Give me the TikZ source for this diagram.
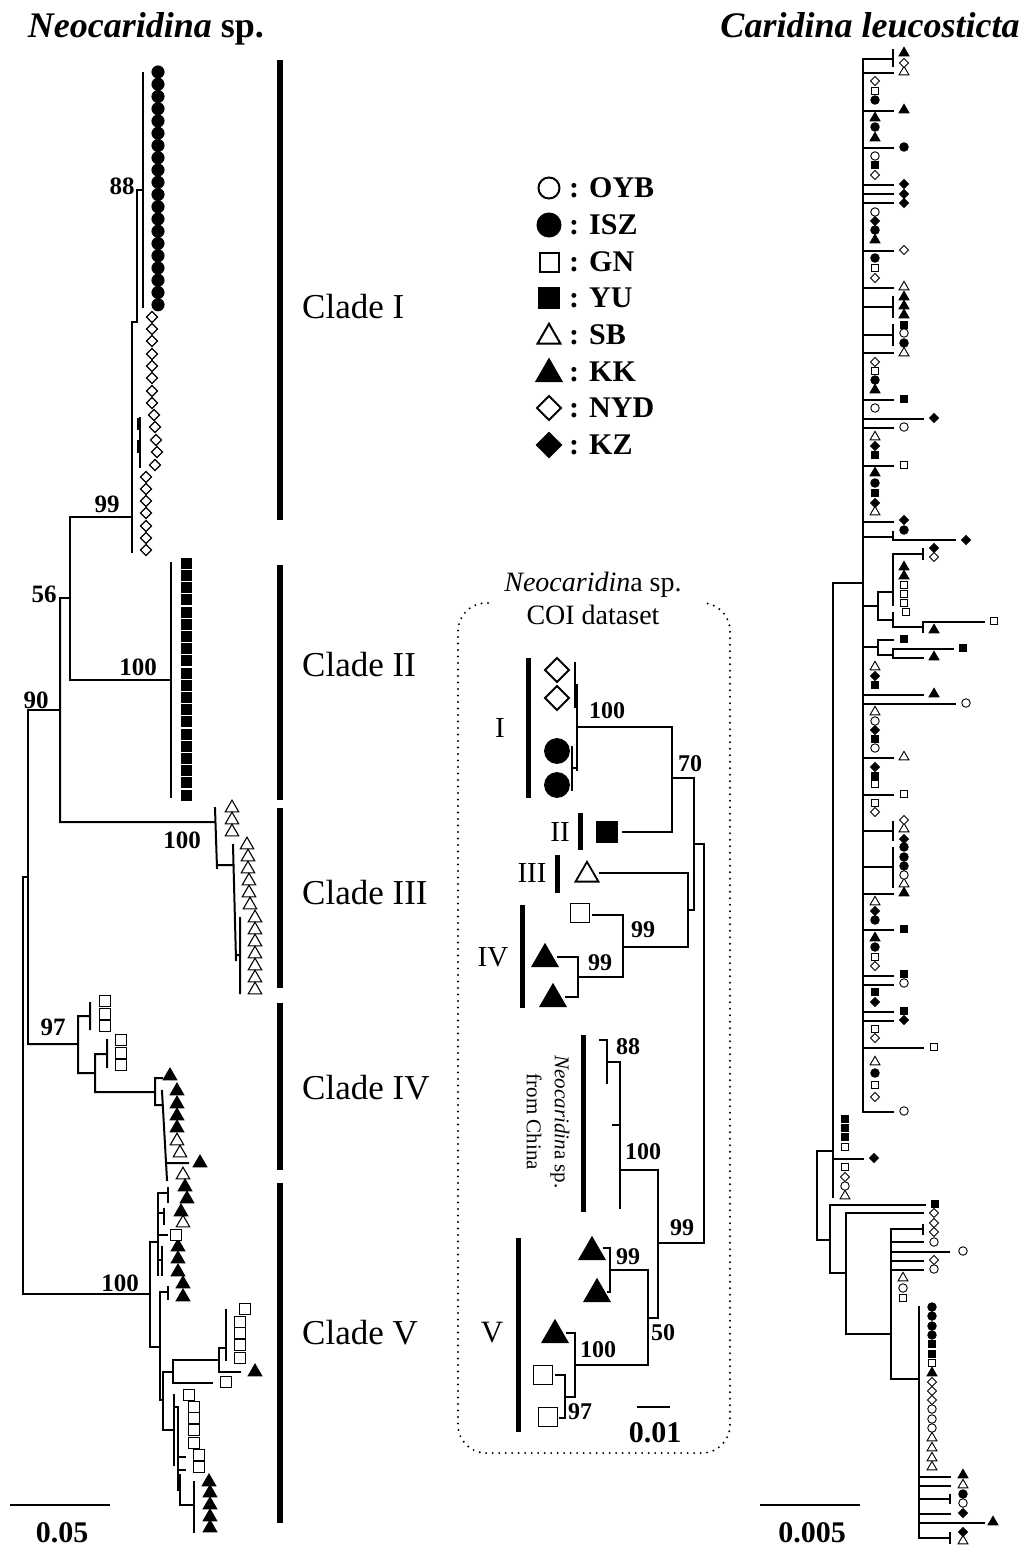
\documentclass[tikz,border=0pt]{standalone}
\usepackage{fontspec}
\setmainfont{Liberation Serif}
\usetikzlibrary{shapes.geometric}

\tikzset{
  sym/.style={draw=black, line width=1.1pt, inner sep=0pt, outer sep=0pt},
  oc/.style={sym, circle, fill=white, minimum size=#1},
  fc/.style={sym, circle, fill=black, minimum size=#1},
  os/.style={sym, rectangle, fill=white, minimum size=#1},
  fs/.style={sym, rectangle, fill=black, minimum size=#1},
  ot/.style={sym, regular polygon, regular polygon sides=3, fill=white, minimum size=1.2*#1},
  ft/.style={sym, regular polygon, regular polygon sides=3, fill=black, minimum size=1.2*#1},
  od/.style={sym, diamond, fill=white, minimum size=#1},
  fd/.style={sym, diamond, fill=black, minimum size=#1},
  br/.style={line width=2pt, line cap=rect},
  rb/.style={line width=1.5pt, line cap=rect},
  ib/.style={line width=2.2pt, line cap=rect},
  bar/.style={line width=6pt},
  ibar/.style={line width=5pt},
  bs/.style={font=\fontsize{25}{25}\selectfont\bfseries, inner sep=0pt},
  ibs/.style={font=\fontsize{24}{24}\selectfont\bfseries, inner sep=0pt},
  clade/.style={font=\fontsize{35}{40}\selectfont, anchor=west, inner sep=0pt},
  roman/.style={font=\fontsize{29}{29}\selectfont, inner sep=0pt},
  lgd/.style={font=\fontsize{30}{30}\selectfont\bfseries, anchor=west, inner sep=0pt},
  ttl/.style={font=\fontsize{36}{40}\selectfont\bfseries, inner sep=0pt},
  sc/.style={font=\fontsize{30}{30}\selectfont\bfseries, inner sep=0pt},
  dotbox/.style={line width=2.2pt, line cap=round, dash pattern=on 0pt off 6.5pt}
}

\begin{document}
\begin{tikzpicture}[x=1pt, y=-1pt]
\useasboundingbox (0,0) rectangle (1027,1548);

% titles
\node[ttl, anchor=base] (ttlL) at (146,37) {\textit{Neocaridina} sp.};
\node[ttl, anchor=base] (ttlR) at (870,37) {\textit{Caridina leucosticta}};

% ---------------- left tree ----------------
% clade I
\draw[br] (143,73) -- (143,307)
  (137,190) -- (143,190) (137,190) -- (137,322)
  (132,322) -- (137,322) (132,322) -- (132,552)
  (140,418) -- (140,467);
\draw[line width=4pt] (139,418) -- (139,430) (139,440) -- (139,453);
\draw[br] (70,517) -- (132,517) (70,517) -- (70,680) (60,598) -- (70,598);
% clade II
\draw[br] (70,680) -- (171,680) (171,563) -- (171,797);
% clade III
\draw[br] (60,598) -- (60,822) -- (215,822) (215,808) -- (217,868)
  (217,865) -- (233,865) (233,845) -- (236,960)
  (236,955) -- (240,955) (240,918) -- (240,993);
% root
\draw[br] (28,710) -- (60,710) (28,710) -- (28,1044)
  (23,877) -- (28,877) (23,877) -- (23,1294) -- (150,1294);
% clade IV
\draw[br] (28,1044) -- (78,1044) (78,1016) -- (78,1073)
  (78,1016) -- (90,1016) (90,1003) -- (90,1029)
  (78,1073) -- (95,1073) (95,1054) -- (95,1092)
  (95,1054) -- (107,1054) (107,1040) -- (107,1067)
  (95,1092) -- (155,1092) (155,1078) -- (155,1105)
  (155,1078) -- (162,1078) (155,1105) -- (162,1105)
  (162,1091) -- (167,1180) (166,1163) -- (188,1163);
% clade V
\draw[br] (150,1242) -- (150,1347)
  (150,1242) -- (158,1242) (158,1193) -- (158,1275)
  (158,1193) -- (168,1193) (168,1188) -- (168,1202)
  (158,1213) -- (164,1213) (164,1209) -- (164,1224)
  (158,1235) -- (167,1235)
  (158,1260) -- (162,1260) (162,1247) -- (162,1275)
  (150,1347) -- (160,1347) (160,1292) -- (160,1400)
  (160,1292) -- (168,1292) (168,1287) -- (168,1299)
  (160,1400) -- (163,1400) (163,1372) -- (163,1430)
  (163,1372) -- (173,1372) (173,1360) -- (173,1383)
  (173,1360) -- (219,1360) (219,1348) -- (219,1372)
  (219,1348) -- (226,1348) (226,1310) -- (226,1360)
  (219,1372) -- (240,1372) (173,1383) -- (212,1383)
  (163,1430) -- (174,1430) (174,1395) -- (174,1465)
  (174,1407) -- (178,1407) (178,1407) -- (178,1490)
  (178,1457) -- (185,1457) (178,1470) -- (185,1470)
  (178,1490) -- (180,1490) (180,1475) -- (180,1505) -- (194,1505)
  (194,1482) -- (194,1532);

% bootstrap values
\node[bs] (b88) at (122,186) {88};
\node[bs] (b99) at (107,504) {99};
\node[bs] (b56) at (44,594) {56};
\node[bs] (b100a) at (138,667) {100};
\node[bs] (b90) at (36,700) {90};
\node[bs] (b100b) at (182,840) {100};
\node[bs] (b97) at (53,1027) {97};
\node[bs] (b100c) at (120,1283) {100};

% leaves
\foreach \k in {0,...,19}
  \node[fc=12pt] (isz\k) at (158,72+12.25*\k) {};
\foreach \x/\y [count=\k] in {152/317,152/329,152/341,152/354,152/366,152/378,152/391,152/403,
    154/415,155/427,156/440,157/452,155/465,146/477,146/489,146/501,146/513,146/526,146/538,146/550}
  \node[od=11pt] (nyd\k) at (\x,\y) {};
\foreach \k in {0,...,19}
  \node[fs=12pt, draw=white, line width=0.6pt] (yu\k) at (186,563+12.2*\k) {};
\foreach \x/\y [count=\k] in {232/808,232/820,232/832,247/845,248/857,248/869,249/881,249/893,
    250/905,255/918,255/930,255/942,255/954,255/966,255/978,255/990,177/1141,180/1153,183/1175,183/1223}
  \node[ot=13pt] (sb\k) at (\x,\y) {};
\foreach \x/\y [count=\k] in {170/1076,177/1091,177/1104,177/1116,177/1128,200/1163,185/1187,
    187/1199,181/1212,178/1247,178/1259,178/1272,183/1284,183/1297,255/1372,209/1482,210/1493,
    210/1505,210/1517,210/1528}
  \node[ft=13pt] (kk\k) at (\x,\y) {};
\foreach \x/\y [count=\k] in {105/1001,105/1014,105/1026,121/1040,121/1053,121/1065,176/1235,
    245/1309,240/1322,240/1333,240/1345,240/1358,226/1382,189/1395,194/1407,194/1418,194/1430,
    194/1443,199/1455,199/1467}
  \node[os=10.5pt] (gn\k) at (\x,\y) {};

% clade bars and names
\foreach \a/\b [count=\k] in {60/520,565/800,808/988,1003/1170,1183/1523}
  \draw[bar] (280,\a) -- (280,\b);
\node[clade] (cI) at (302,307) {Clade I};
\node[clade] (cII) at (302,665) {Clade II};
\node[clade] (cIII) at (302,893) {Clade III};
\node[clade] (cIV) at (302,1088) {Clade IV};
\node[clade] (cV) at (302,1333) {Clade V};

% scale
\draw[line width=2.2pt] (10,1505) -- (110,1505);
\node[sc] (sL) at (62,1533) {0.05};

% ---------------- legend ----------------
\begin{scope}[sym/.append style={line width=2pt}]
  \node[oc=21pt] (k1) at (549,188) {};
  \node[fc=23pt] (k2) at (549,225) {};
  \node[os=19pt] (k3) at (549,262) {};
  \node[fs=20pt] (k4) at (549,298) {};
  \node[ot=22pt] (k5) at (549,337) {};
  \node[ft=24pt] (k6) at (549,374) {};
  \node[od=24pt] (k7) at (549,408) {};
  \node[fd=24pt] (k8) at (549,445) {};
\end{scope}
\foreach \n [count=\k] in {OYB,ISZ,GN,YU,SB,KK,NYD,KZ}
  \node[lgd] (t\k) at (569,151.3+36.7*\k) {: \n};

% ---------------- inset ----------------
\draw[dotbox, rounded corners=28pt] (488,603) -- (458,603) -- (458,1453) -- (730,1453) -- (730,603) -- (702,603);
\node[font=\fontsize{28}{33}\selectfont, align=center, inner sep=0pt] (ds) at (593,598)
  {\textit{Neocaridin}a sp.\\COI dataset};

\draw[ib] (575,663) -- (575,707) (577,685) -- (577,770)
  (572,747) -- (572,790) (572,768) -- (577,768)
  (577,727) -- (672,727) (672,727) -- (672,832) (623,832) -- (672,832)
  (672,778) -- (694,778) (694,778) -- (694,910)
  (694,844) -- (704,844) (704,844) -- (704,1243)
  (688,910) -- (694,910) (688,873) -- (688,947)
  (600,873) -- (688,873) (623,947) -- (688,947)
  (623,915) -- (623,977) (593,915) -- (623,915)
  (578,977) -- (623,977) (578,957) -- (578,997)
  (558,957) -- (578,957) (566,997) -- (578,997);
\draw[ib] (600,1040) -- (607,1040) (607,1040) -- (607,1083)
  (607,1062) -- (620,1062) (620,1062) -- (620,1208)
  (613,1125) -- (620,1125) (620,1170) -- (658,1170)
  (658,1170) -- (658,1318) (658,1243) -- (704,1243)
  (648,1318) -- (658,1318) (648,1270) -- (648,1365)
  (610,1270) -- (648,1270) (610,1248) -- (610,1292)
  (604,1248) -- (610,1248) (608,1292) -- (610,1292)
  (575,1365) -- (648,1365) (575,1333) -- (575,1397)
  (567,1333) -- (575,1333) (565,1397) -- (575,1397)
  (565,1375) -- (565,1418) (556,1375) -- (565,1375) (560,1418) -- (565,1418);

\foreach \a/\b/\x in {658/798/528, 813/850/580, 855/893/557, 905/1008/522, 1035/1212/583, 1238/1432/518}
  \draw[ibar] (\x,\a) -- (\x,\b);

\begin{scope}[sym/.append style={line width=1.8pt}]
  \node[od=24pt] (iod1) at (557,670) {};
  \node[od=24pt] (iod2) at (557,698) {};
  \node[fc=24pt] (ifc1) at (557,751) {};
  \node[fc=24pt] (ifc2) at (557,785) {};
  \node[fs=20pt] (ifs1) at (607,832) {};
  \node[ot=22pt] (iot1) at (587,875) {};
  \node[os=19pt] (ios1) at (580,913) {};
  \node[ft=24pt] (ift1) at (545,959) {};
  \node[ft=24pt] (ift2) at (553,999) {};
  \node[ft=24pt] (ift3) at (592,1252) {};
  \node[ft=24pt] (ift4) at (597,1294) {};
  \node[ft=24pt] (ift5) at (555,1335) {};
  \node[os=19pt] (ios2) at (543,1375) {};
  \node[os=19pt] (ios3) at (548,1417) {};
\end{scope}

\node[roman] (rI) at (500,728) {I};
\node[roman] (rII) at (560,832) {II};
\node[roman] (rIII) at (532,873) {III};
\node[roman] (rIV) at (493,957) {IV};
\node[roman, font=\fontsize{31}{31}\selectfont] (rV) at (492,1333) {V};
\node[rotate=-90, align=center, font=\fontsize{21}{28}\selectfont, inner sep=0pt] (cn) at (548,1122)
  {\textit{Neocaridin}a sp.\\from China};

\node[ibs] (i100a) at (607,711) {100};
\node[ibs] (i70) at (690,764) {70};
\node[ibs] (i99a) at (643,930) {99};
\node[ibs] (i99b) at (600,963) {99};
\node[ibs] (i88) at (628,1047) {88};
\node[ibs] (i100b) at (643,1152) {100};
\node[ibs] (i99c) at (682,1228) {99};
\node[ibs] (i99d) at (628,1257) {99};
\node[ibs] (i50) at (663,1333) {50};
\node[ibs] (i100c) at (598,1350) {100};
\node[ibs] (i97) at (580,1412) {97};

\draw[line width=2.2pt] (637,1407) -- (670,1407);
\node[sc] (sI) at (655,1433) {0.01};

% ---------------- right tree ----------------
\draw[rb] (863,59) -- (863,1112);
\foreach \y in {73,111,148,185,194,203,251,288,353,400,428,466,522,758,795,894,930,976,985,1012,1021,1112}
  \draw[rb] (863,\y) -- (893,\y);
\foreach \y/\a/\b in {59/50/66, 307/297/317, 335/325/345, 831/822/840, 867/848/887}
  \draw[rb] (863,\y) -- (893,\y) (893,\a) -- (893,\b);
\draw[rb] (863,419) -- (923,419) (863,695) -- (923,695) (863,704) -- (955,704) (863,1048) -- (923,1048);
\draw[rb] (863,537) -- (893,537) (893,532) -- (893,540) -- (955,540);
\draw[rb] (833,583) -- (863,583) (833,583) -- (833,1197);
\draw[rb] (863,606) -- (878,606) (878,592) -- (878,620) (878,592) -- (893,592)
  (893,554) -- (893,605) (893,554) -- (923,554) (923,549) -- (923,559);
\draw[rb] (878,620) -- (893,620) (893,613) -- (893,627) -- (923,627)
  (923,622) -- (923,632) (923,622) -- (984,622);
\draw[rb] (863,647) -- (878,647) (878,640) -- (878,655) (878,640) -- (893,640)
  (878,655) -- (893,655) (893,649) -- (893,658) (893,649) -- (953,649) (893,658) -- (923,658);
\draw[rb] (833,1159) -- (863,1159);
\draw[rb] (817,1151) -- (833,1151) (817,1151) -- (817,1240) -- (830,1240)
  (830,1205) -- (830,1273) (830,1205) -- (925,1205) (830,1273) -- (846,1273)
  (846,1213) -- (846,1334) (846,1213) -- (923,1213);
\draw[rb] (846,1334) -- (891,1334) (891,1229) -- (891,1379) -- (919,1379) (919,1307) -- (919,1538);
\foreach \y in {1242,1261,1270}
  \draw[rb] (891,\y) -- (923,\y);
\draw[rb] (891,1229) -- (923,1229) (923,1225) -- (923,1234) (891,1252) -- (949,1252);
\foreach \y in {1477,1486,1514}
  \draw[rb] (919,\y) -- (950,\y);
\draw[rb] (919,1499) -- (950,1499) (950,1495) -- (950,1503) (919,1523) -- (984,1523)
  (919,1538) -- (950,1538) (950,1533) -- (950,1543);

\begin{scope}[sym/.append style={line width=0.9pt}]
\foreach \x/\y [count=\k] in {904/53,904/110,904/297,904/306,904/315,904/567,904/576,904/893,875/118,
    875/138,875/240,875/390,875/473,875/938,934/630,934/657,934/694,932/1373,963/1475,993/1522}
  \node[ft=9.5pt] (rft\k) at (\x,\y) {};
\foreach \x/\y [count=\k] in {904/72,904/287,904/353,904/757,904/829,904/884,875/437,875/512,875/667,
    875/712,875/902,875/1062,845/1196,903/1278,932/1438,932/1448,932/1458,932/1467,963/1485,963/1541}
  \node[ot=9.5pt] (rot\k) at (\x,\y) {};
\foreach \x/\y [count=\k] in {904/147,904/343,904/530,904/847,904/857,904/866,875/100,875/127,875/230,
    875/258,875/380,875/483,875/920,875/947,875/1073,932/1307,932/1316,932/1326,932/1335,963/1494}
  \node[fc=8.5pt] (rfc\k) at (\x,\y) {};
\foreach \x/\y [count=\k] in {904/333,904/427,904/875,904/983,904/1111,875/156,875/212,875/408,875/721,
    875/748,966/703,845/1186,934/1242,963/1251,934/1269,903/1288,932/1409,932/1419,932/1428,963/1503}
  \node[oc=8.5pt] (roc\k) at (\x,\y) {};
\foreach \x/\y [count=\k] in {904/325,904/399,904/639,904/929,904/974,904/1011,875/165,875/455,875/493,
    875/685,875/739,875/776,875/992,963/648,845/1119,845/1128,845/1137,935/1204,932/1344,932/1354}
  \node[fs=7.5pt] (rfs\k) at (\x,\y) {};
\foreach \x/\y [count=\k] in {904/465,904/585,904/594,904/603,906/612,904/794,875/91,875/268,875/371,
    875/784,875/803,875/957,875/1029,875/1085,994/621,934/1047,845/1147,845/1167,903/1298,932/1363}
  \node[os=7.5pt] (ros\k) at (\x,\y) {};
\foreach \x/\y [count=\k] in {904/184,904/194,904/203,904/520,904/839,904/1020,875/221,875/446,875/503,
    875/676,875/730,875/767,875/911,875/1002,934/418,966/540,934/548,874/1158,963/1513,963/1532}
  \node[fd=9pt] (rfd\k) at (\x,\y) {};
\foreach \x/\y [count=\k] in {904/63,904/250,904/820,875/81,875/175,875/278,875/362,875/812,875/966,
    875/1038,875/1097,934/557,845/1177,934/1213,934/1223,934/1232,934/1260,932/1382,932/1391,932/1400}
  \node[od=9pt] (rod\k) at (\x,\y) {};
\end{scope}

\draw[line width=2.2pt] (760,1505) -- (860,1505);
\node[sc] (sR) at (812,1533) {0.005};

\end{tikzpicture}
\end{document}
